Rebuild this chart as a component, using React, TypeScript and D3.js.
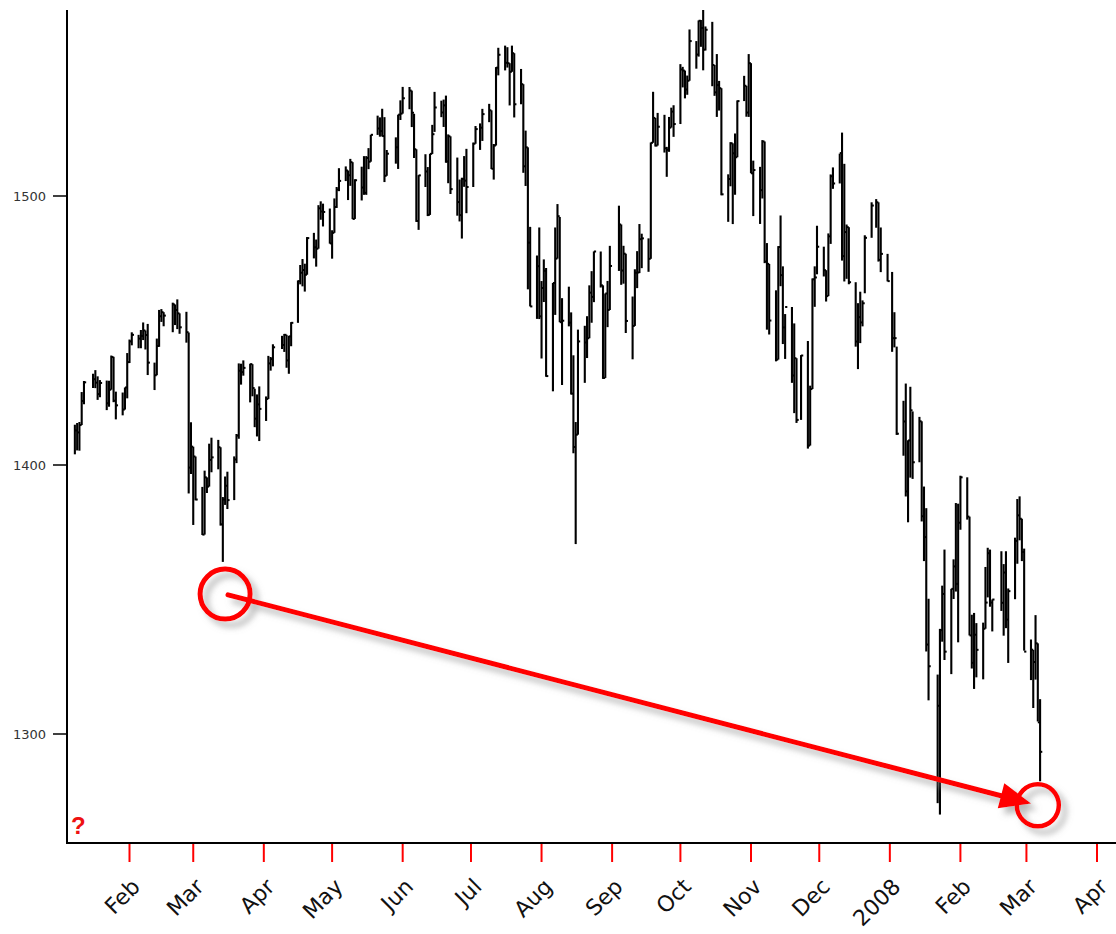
import React from "react";
import * as d3 from "d3";

// [day, high, low, close]
type Row = [number, number, number, number];

const jan07: Row[] = [
  [8, 1414.98, 1403.97, 1412.84], [9, 1415.61, 1405.42, 1412.11], [10, 1415.99, 1405.32, 1414.85],
  [11, 1427.12, 1414.85, 1423.82], [12, 1431.23, 1422.58, 1430.73], [16, 1433.93, 1428.62, 1431.9],
  [17, 1435.27, 1428.57, 1430.62], [18, 1432.96, 1424.21, 1426.37], [19, 1431.57, 1425.19, 1430.5],
  [22, 1431.39, 1420.4, 1422.95], [23, 1431.33, 1421.66, 1427.99], [24, 1440.69, 1427.99, 1440.13],
  [25, 1440.23, 1423.35, 1423.9], [26, 1427.27, 1416.96, 1422.18], [29, 1426.94, 1418.46, 1420.62],
  [30, 1428.82, 1420.61, 1428.82], [31, 1441.61, 1424.78, 1438.24],
];
const feb07: Row[] = [
  [1, 1446.64, 1437.9, 1445.94], [2, 1449.33, 1444.49, 1448.39], [5, 1448.39, 1443.4, 1446.99],
  [6, 1450.19, 1443.4, 1448.0], [7, 1452.99, 1446.44, 1450.02], [8, 1450.02, 1442.94, 1448.31],
  [9, 1452.45, 1433.44, 1438.06], [12, 1438.06, 1427.86, 1433.37], [13, 1447.0, 1433.37, 1444.26],
  [14, 1457.65, 1443.93, 1455.3], [15, 1457.96, 1453.19, 1456.81], [16, 1456.81, 1451.57, 1455.54],
  [20, 1460.35, 1449.36, 1459.68], [21, 1459.68, 1452.02, 1457.63], [22, 1461.57, 1450.51, 1456.38],
  [23, 1456.38, 1448.78, 1451.19], [26, 1456.95, 1445.48, 1449.37], [27, 1449.25, 1389.42, 1399.04],
  [28, 1415.89, 1396.65, 1406.82],
];
const mar07: Row[] = [
  [1, 1406.82, 1377.71, 1403.17], [2, 1403.17, 1386.87, 1387.17], [5, 1391.86, 1373.97, 1374.12],
  [6, 1397.9, 1374.12, 1395.41], [7, 1395.41, 1389.58, 1391.97], [8, 1407.93, 1391.97, 1401.89],
  [9, 1410.15, 1397.3, 1402.84], [12, 1409.34, 1398.4, 1406.6], [13, 1406.6, 1377.47, 1377.95],
  [14, 1388.09, 1363.98, 1387.17], [15, 1395.73, 1385.16, 1392.28], [16, 1397.51, 1383.63, 1386.95],
  [19, 1403.2, 1386.95, 1402.06], [20, 1411.53, 1400.7, 1410.94], [21, 1437.77, 1409.75, 1435.04],
  [22, 1437.66, 1429.88, 1434.54], [23, 1438.89, 1433.21, 1436.11], [26, 1437.65, 1423.28, 1437.5],
  [27, 1437.49, 1425.54, 1428.61], [28, 1428.35, 1414.07, 1417.23], [29, 1426.24, 1410.61, 1422.53],
  [30, 1429.22, 1408.9, 1420.86],
];
const apr07: Row[] = [
  [2, 1425.49, 1416.37, 1424.55], [3, 1440.57, 1424.55, 1437.77], [4, 1440.16, 1435.08, 1439.37],
  [5, 1444.88, 1436.67, 1443.76], [9, 1448.02, 1443.12, 1444.61], [10, 1448.73, 1442.04, 1448.39],
  [11, 1448.39, 1436.15, 1438.87], [12, 1448.02, 1433.91, 1447.8], [13, 1453.11, 1444.15, 1452.85],
  [16, 1468.62, 1452.85, 1468.33], [17, 1474.35, 1467.15, 1471.48], [18, 1476.57, 1466.41, 1472.5],
  [19, 1474.83, 1464.47, 1470.73], [20, 1484.74, 1470.73, 1484.35], [23, 1486.3, 1476.8, 1480.93],
  [24, 1483.82, 1473.74, 1480.41], [25, 1496.59, 1480.41, 1495.42], [26, 1498.02, 1491.17, 1494.25],
  [27, 1497.16, 1488.67, 1494.07], [30, 1495.34, 1482.29, 1482.37],
];
const may07: Row[] = [
  [1, 1487.27, 1476.7, 1486.3], [2, 1499.1, 1486.3, 1495.92], [3, 1503.34, 1495.56, 1502.39],
  [4, 1510.34, 1501.8, 1505.62], [7, 1511.0, 1505.54, 1509.48], [8, 1509.48, 1498.49, 1507.72],
  [9, 1513.8, 1503.77, 1512.58], [10, 1512.58, 1491.42, 1491.47], [11, 1506.24, 1491.47, 1505.85],
  [14, 1510.9, 1498.34, 1503.15], [15, 1514.82, 1500.43, 1501.19], [16, 1514.83, 1500.43, 1514.14],
  [17, 1517.8, 1509.98, 1512.75], [18, 1522.75, 1512.75, 1522.75], [21, 1529.87, 1522.71, 1525.1],
  [22, 1529.24, 1522.05, 1524.12], [23, 1532.43, 1522.12, 1522.28], [24, 1529.31, 1505.18, 1507.51],
  [25, 1517.11, 1507.51, 1515.73], [29, 1521.8, 1512.02, 1518.11], [30, 1530.23, 1510.06, 1530.23],
  [31, 1535.56, 1528.26, 1530.62],
];
const jun07: Row[] = [
  [1, 1540.56, 1530.62, 1536.34], [4, 1540.53, 1532.26, 1539.18], [5, 1539.18, 1525.62, 1530.95],
  [6, 1530.57, 1514.13, 1517.38], [7, 1517.38, 1490.37, 1490.72], [8, 1507.76, 1487.41, 1507.67],
  [11, 1515.53, 1503.35, 1509.12], [12, 1510.76, 1492.53, 1493.0], [13, 1515.7, 1492.97, 1515.67],
  [14, 1526.45, 1515.64, 1522.97], [15, 1538.71, 1523.83, 1532.91], [18, 1535.44, 1529.31, 1531.05],
  [19, 1535.85, 1525.67, 1533.7], [20, 1537.32, 1512.36, 1512.84], [21, 1522.9, 1504.75, 1522.19],
  [22, 1522.19, 1500.74, 1502.56], [25, 1514.29, 1492.68, 1497.74], [26, 1506.12, 1490.54, 1492.89],
  [27, 1506.8, 1484.18, 1506.34], [28, 1514.84, 1503.41, 1505.71], [29, 1517.53, 1493.61, 1503.35],
];
const jul07: Row[] = [
  [2, 1519.87, 1503.35, 1519.43], [3, 1526.01, 1519.43, 1524.87], [5, 1526.99, 1517.13, 1525.4],
  [6, 1532.4, 1520.47, 1530.44], [9, 1534.26, 1527.45, 1531.85], [10, 1531.85, 1510.01, 1510.12],
  [11, 1519.34, 1506.1, 1518.76], [12, 1547.92, 1518.76, 1547.7], [13, 1555.1, 1544.85, 1552.5],
  [16, 1555.9, 1546.69, 1549.52], [17, 1555.32, 1547.74, 1549.37], [18, 1549.37, 1533.67, 1546.17],
  [19, 1555.9, 1546.17, 1553.08], [20, 1553.08, 1529.2, 1534.1], [23, 1547.23, 1534.1, 1541.57],
  [24, 1541.57, 1508.62, 1511.04], [25, 1524.31, 1503.73, 1518.09], [26, 1518.09, 1465.3, 1482.66],
  [27, 1488.53, 1458.95, 1458.95], [30, 1477.88, 1454.32, 1473.91], [31, 1488.3, 1454.25, 1455.27],
];
const aug07: Row[] = [
  [1, 1468.38, 1439.59, 1465.81], [2, 1476.43, 1460.58, 1472.2], [3, 1473.23, 1432.8, 1433.06],
  [6, 1467.67, 1427.39, 1467.67], [7, 1488.3, 1455.8, 1476.71], [8, 1497.0, 1476.71, 1492.49],
  [9, 1492.21, 1453.09, 1453.09], [10, 1462.02, 1429.74, 1453.64], [13, 1466.29, 1451.54, 1452.92],
  [14, 1456.74, 1426.2, 1426.54], [15, 1440.78, 1404.36, 1406.7], [16, 1415.97, 1370.6, 1411.27],
  [17, 1450.33, 1411.27, 1445.94], [20, 1451.75, 1430.54, 1445.55], [21, 1455.32, 1439.76, 1447.12],
  [22, 1466.79, 1447.12, 1464.07], [23, 1472.06, 1452.88, 1462.5], [24, 1479.4, 1460.54, 1479.37],
  [27, 1479.37, 1465.98, 1466.79], [28, 1466.79, 1432.01, 1432.36], [29, 1463.76, 1432.36, 1463.76],
  [30, 1468.43, 1451.25, 1457.64], [31, 1481.47, 1457.61, 1473.99],
];
const sep07: Row[] = [
  [4, 1496.4, 1472.15, 1489.42], [5, 1489.42, 1466.98, 1472.29], [6, 1481.49, 1467.41, 1478.55],
  [7, 1478.55, 1449.07, 1453.55], [10, 1462.63, 1439.29, 1451.7], [11, 1472.76, 1451.7, 1471.49],
  [12, 1479.5, 1465.75, 1471.56], [13, 1489.58, 1471.35, 1483.95], [14, 1485.99, 1473.18, 1484.25],
  [17, 1484.25, 1471.82, 1476.65], [18, 1519.89, 1476.65, 1519.78], [19, 1538.74, 1519.78, 1529.03],
  [20, 1529.03, 1518.4, 1518.75], [21, 1530.89, 1518.75, 1525.75], [24, 1530.18, 1516.15, 1517.73],
  [25, 1518.27, 1507.13, 1517.21], [26, 1529.39, 1516.42, 1525.42], [27, 1532.84, 1525.42, 1531.38],
  [28, 1533.74, 1521.99, 1526.75],
];
const oct07: Row[] = [
  [1, 1549.02, 1526.75, 1547.04], [2, 1548.01, 1540.37, 1546.63], [3, 1546.63, 1536.29, 1539.59],
  [4, 1544.78, 1537.63, 1542.84], [5, 1561.91, 1542.84, 1557.59], [8, 1557.59, 1547.33, 1552.58],
  [9, 1565.26, 1551.82, 1565.15], [10, 1565.42, 1555.46, 1562.47], [11, 1576.09, 1546.72, 1554.41],
  [12, 1563.03, 1554.09, 1561.8], [15, 1564.74, 1540.81, 1548.71], [16, 1548.71, 1537.24, 1538.53],
  [17, 1552.76, 1529.4, 1541.24], [18, 1542.79, 1531.76, 1540.08], [19, 1540.08, 1500.26, 1500.63],
  [22, 1508.06, 1490.4, 1506.33], [23, 1520.01, 1503.61, 1519.59], [24, 1519.59, 1489.56, 1515.88],
  [25, 1523.24, 1500.46, 1514.4], [26, 1535.53, 1514.4, 1535.28], [29, 1544.67, 1535.28, 1540.98],
  [30, 1540.98, 1529.47, 1531.02], [31, 1552.76, 1529.4, 1549.38],
];
const nov07: Row[] = [
  [1, 1549.38, 1508.44, 1508.44], [2, 1513.15, 1492.53, 1509.65], [5, 1510.84, 1489.61, 1502.17],
  [6, 1520.77, 1499.07, 1520.27], [7, 1520.27, 1475.04, 1475.62], [8, 1482.5, 1450.31, 1474.77],
  [9, 1474.77, 1448.51, 1453.7], [12, 1464.94, 1438.53, 1439.18], [13, 1481.37, 1439.18, 1481.05],
  [14, 1492.76, 1466.47, 1470.58], [15, 1473.85, 1444.96, 1451.15], [16, 1456.11, 1439.43, 1458.74],
  [19, 1458.74, 1430.54, 1433.27], [20, 1452.64, 1419.28, 1439.7], [21, 1439.7, 1415.64, 1416.77],
  [23, 1440.86, 1416.77, 1440.7], [26, 1446.09, 1406.1, 1407.22], [27, 1429.49, 1407.22, 1428.23],
  [28, 1469.36, 1428.23, 1469.02], [29, 1473.85, 1458.8, 1469.72], [30, 1488.94, 1470.89, 1481.14],
];
const dec07: Row[] = [
  [3, 1481.16, 1470.08, 1472.42], [4, 1472.42, 1460.77, 1462.79], [5, 1486.09, 1462.79, 1485.01],
  [6, 1508.02, 1482.19, 1507.34], [7, 1510.63, 1502.66, 1504.66], [10, 1515.75, 1504.66, 1515.96],
  [11, 1523.57, 1475.99, 1477.65], [12, 1511.96, 1468.23, 1486.59], [13, 1489.4, 1469.21, 1488.41],
  [14, 1488.41, 1467.19, 1467.95], [17, 1467.95, 1443.99, 1445.9], [18, 1460.16, 1435.65, 1454.98],
  [19, 1464.42, 1445.31, 1453.0], [20, 1461.19, 1451.54, 1460.12], [21, 1485.4, 1463.84, 1484.46],
  [24, 1497.66, 1484.46, 1496.45], [26, 1498.85, 1488.2, 1497.66], [27, 1497.66, 1475.62, 1476.27],
  [28, 1488.3, 1471.7, 1478.49], [31, 1478.49, 1468.26, 1468.36],
];
const jan08: Row[] = [
  [2, 1471.77, 1442.07, 1447.16], [3, 1456.8, 1443.73, 1447.16], [4, 1444.01, 1411.19, 1411.63],
  [7, 1423.87, 1403.45, 1416.18], [8, 1430.28, 1388.3, 1390.19], [9, 1409.19, 1378.7, 1409.13],
  [10, 1429.08, 1395.31, 1420.33], [11, 1419.91, 1394.83, 1401.02], [14, 1417.89, 1401.02, 1416.25],
  [15, 1416.25, 1379.01, 1380.95], [16, 1391.99, 1364.27, 1373.2], [17, 1383.95, 1330.67, 1333.25],
  [18, 1350.28, 1312.51, 1325.19], [22, 1322.09, 1274.29, 1310.5], [23, 1339.09, 1270.05, 1338.6],
  [24, 1355.15, 1334.31, 1352.07], [25, 1368.56, 1327.5, 1330.61], [28, 1353.97, 1322.26, 1353.96],
  [29, 1364.93, 1350.19, 1362.3], [30, 1385.86, 1352.95, 1355.81], [31, 1385.62, 1334.08, 1378.55],
];
const feb08: Row[] = [
  [1, 1396.02, 1375.93, 1395.42], [4, 1395.42, 1379.69, 1380.82], [5, 1380.82, 1336.64, 1336.64],
  [6, 1344.34, 1324.34, 1326.45], [7, 1345.01, 1316.75, 1336.91], [8, 1341.22, 1321.06, 1331.29],
  [11, 1341.4, 1320.32, 1339.13], [12, 1362.1, 1339.13, 1348.86], [13, 1369.23, 1350.78, 1367.21],
  [14, 1368.56, 1347.31, 1348.86], [15, 1350.0, 1338.13, 1349.99], [19, 1367.94, 1345.75, 1348.78],
  [20, 1363.16, 1336.55, 1360.03], [21, 1367.94, 1339.34, 1342.53], [22, 1354.1, 1326.42, 1353.11],
  [25, 1372.99, 1350.11, 1371.8], [26, 1387.34, 1363.29, 1381.29], [27, 1388.34, 1372.0, 1380.02],
  [28, 1380.02, 1364.27, 1367.68], [29, 1368.92, 1331.0, 1330.63],
];
const mar08: Row[] = [
  [3, 1335.13, 1320.04, 1331.34], [4, 1331.29, 1309.66, 1326.75], [5, 1344.19, 1320.22, 1333.7],
  [6, 1333.7, 1304.66, 1304.34], [7, 1312.95, 1282.43, 1293.37],
];

const monthBlocks: [number, number, Row[]][] = [
  [2007, 0, jan07], [2007, 1, feb07], [2007, 2, mar07], [2007, 3, apr07], [2007, 4, may07],
  [2007, 5, jun07], [2007, 6, jul07], [2007, 7, aug07], [2007, 8, sep07], [2007, 9, oct07],
  [2007, 10, nov07], [2007, 11, dec07], [2008, 0, jan08], [2008, 1, feb08], [2008, 2, mar08],
];

const yTickValues = [1300, 1400, 1500];
const monthTickDates: [number, number][] = [
  [2007, 1], [2007, 2], [2007, 3], [2007, 4], [2007, 5], [2007, 6], [2007, 7], [2007, 8],
  [2007, 9], [2007, 10], [2007, 11], [2008, 0], [2008, 1], [2008, 2], [2008, 3],
];
const monthTickLabels = ["Feb", "Mar", "Apr", "May", "Jun", "Jul", "Aug", "Sep", "Oct", "Nov", "Dec", "2008", "Feb", "Mar", "Apr"];

const annotationStart = { date: [2007, 2, 15] as [number, number, number], value: 1352 };
const annotationEnd = { date: [2008, 2, 6] as [number, number, number], value: 1273.5 };

const W = 1116;
const H = 934;
const plotLeft = 67;
const plotTop = 10;
const plotBottom = 843;

export default function App() {
  const x = d3
    .scaleTime()
    .domain([new Date(2007, 1, 1), new Date(2008, 3, 1)])
    .range([129.5, 1097]);
  const y = d3.scaleLinear().domain([1300, 1500]).range([734, 196]);

  const bars = monthBlocks.flatMap(([yr, mo, rows]) =>
    rows.map(([d, hi, lo, cl]) => ({ date: new Date(yr, mo, d), hi, lo, cl }))
  );

  const p0 = [x(new Date(...annotationStart.date)), y(annotationStart.value)];
  const p1 = [x(new Date(...annotationEnd.date)), y(annotationEnd.value)];
  const dx = p1[0] - p0[0];
  const dy = p1[1] - p0[1];
  const len = Math.hypot(dx, dy);
  const ux = dx / len;
  const uy = dy / len;
  const px = -uy;
  const py = ux;
  const tip = [p1[0] - ux * 7, p1[1] - uy * 7];
  const headLen = 31;
  const headHalf = 13;
  const base = [tip[0] - ux * headLen, tip[1] - uy * headLen];
  const head = [
    [tip[0], tip[1]],
    [base[0] + px * headHalf, base[1] + py * headHalf],
    [base[0] - px * headHalf, base[1] - py * headHalf],
  ];

  return (
    <svg
      width={W}
      height={H}
      style={{ position: "absolute", left: 0, top: 0, background: "#fff" }}
      fontFamily="'DejaVu Sans', Verdana, sans-serif"
    >
      <defs>
        <clipPath id="plotClip">
          <rect x={plotLeft + 1} y={plotTop} width={W - plotLeft} height={plotBottom - plotTop} />
        </clipPath>
        <filter id="shadow" x="-20%" y="-50%" width="140%" height="200%">
          <feGaussianBlur in="SourceAlpha" stdDeviation="3" result="blur" />
          <feOffset in="blur" dx="6" dy="6" result="off" />
          <feFlood floodColor="#808080" floodOpacity="0.55" />
          <feComposite in2="off" operator="in" result="sh" />
          <feMerge>
            <feMergeNode in="sh" />
            <feMergeNode in="SourceGraphic" />
          </feMerge>
        </filter>
      </defs>
      <rect x={0} y={0} width={W} height={H} fill="#fff" />

      {/* bars */}
      <g clipPath="url(#plotClip)" stroke="#000">
        {bars.map((b, i) => {
          const bx = x(b.date);
          return (
            <g key={i}>
              <line x1={bx} x2={bx} y1={y(b.hi)} y2={y(b.lo)} strokeWidth={2.1} />
              <line x1={bx} x2={bx + 2.2} y1={y(b.cl)} y2={y(b.cl)} strokeWidth={2} />
            </g>
          );
        })}
      </g>

      {/* y axis */}
      <line x1={plotLeft} x2={plotLeft} y1={plotTop} y2={plotBottom + 1} stroke="#000" strokeWidth={2} />
      {yTickValues.map((v) => (
        <g key={v}>
          <line x1={53} x2={plotLeft} y1={y(v)} y2={y(v)} stroke="#000" strokeWidth={1.5} />
          <text x={46} y={y(v) + 4.5} textAnchor="end" fontSize={13} fill="#333">
            {v}
          </text>
        </g>
      ))}

      {/* x axis */}
      <line x1={plotLeft - 1} x2={W} y1={plotBottom} y2={plotBottom} stroke="#000" strokeWidth={2} />
      {monthTickDates.map(([yr, mo], i) => {
        const tx = x(new Date(yr, mo, 1));
        return (
          <g key={i}>
            <line x1={tx} x2={tx} y1={plotBottom + 1} y2={862} stroke="#ff0000" strokeWidth={2} />
            <text
              transform={`translate(${tx + 12},${888}) rotate(-45)`}
              textAnchor="end"
              fontSize={22}
              fill="#111"
            >
              {monthTickLabels[i]}
            </text>
          </g>
        );
      })}

      <text x={71} y={834} fontSize={24} fontWeight="bold" fill="#ee1111" fontFamily="'Liberation Sans', Arial, sans-serif">
        ?
      </text>

      {/* annotation */}
      <g filter="url(#shadow)">
        <circle cx={p0[0]} cy={p0[1]} r={25} fill="none" stroke="#ff0000" strokeWidth={5} />
        <circle cx={p1[0]} cy={p1[1]} r={21} fill="none" stroke="#ff0000" strokeWidth={4.5} />
        <line
          x1={p0[0] + ux * 3}
          y1={p0[1] + uy * 3}
          x2={base[0] + ux * 2}
          y2={base[1] + uy * 2}
          stroke="#ff0000"
          strokeWidth={5}
          strokeLinecap="round"
        />
        <polygon points={head.map((p) => p.join(",")).join(" ")} fill="#ff0000" />
      </g>
    </svg>
  );
}
